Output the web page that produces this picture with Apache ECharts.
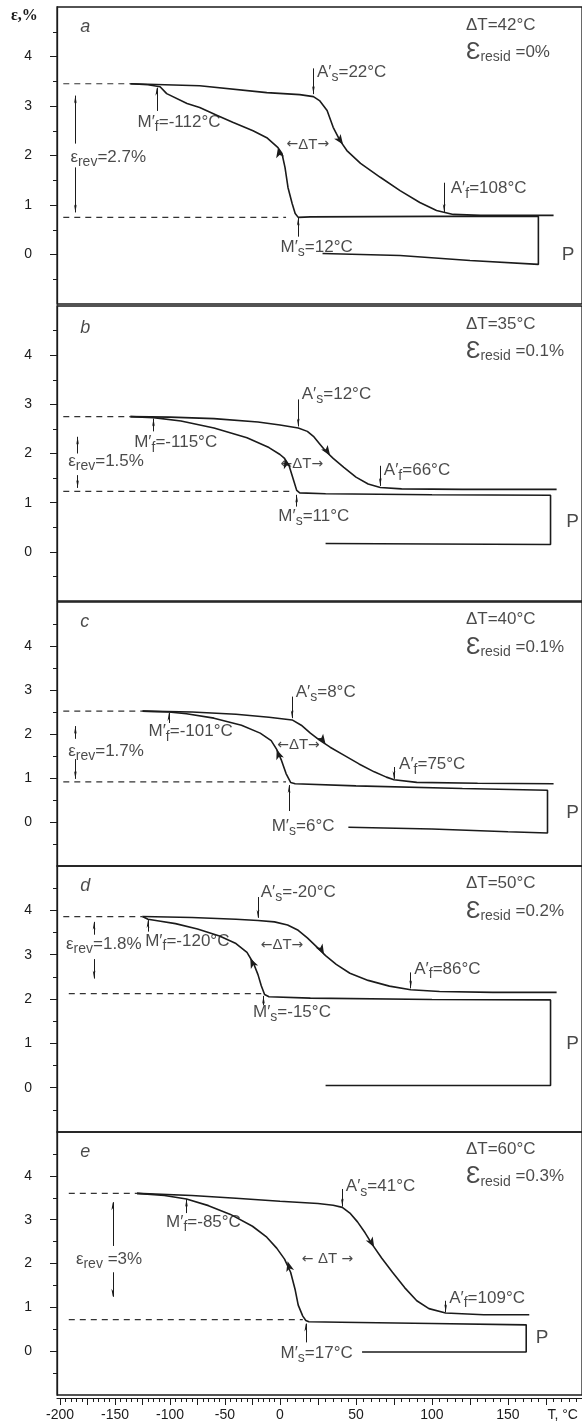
<!DOCTYPE html>
<html>
<head>
<meta charset="utf-8">
<script src="https://cdn.jsdelivr.net/npm/echarts@6/dist/echarts.min.js"></script>
<style>
  html, body { margin: 0; padding: 0; background: #fff; }
  #chart { width: 582px; height: 1425px; }
</style>
</head>
<body>
<div id="chart"></div>
<script>
// axis ticks
const tempLabels = [-200, -150, -100, -50, 0, 50, 100, 150];
const strainTicks = [0, 1, 2, 3, 4];

// characteristic values per panel
const panelNames = ['a', 'b', 'c', 'd', 'e'];
const deltaT = [42, 35, 40, 50, 60];
const residStrain = ['0', '0.1', '0.1', '0.2', '0.3'];
const epsRev = ['2.7', '1.5', '1.7', '1.8', '3'];
const tMf = [-112, -115, -101, -120, -85];
const tAs = [22, 12, 8, -20, 41];
const tAf = [108, 66, 75, 86, 109];
const tMs = [12, 11, 6, -15, 17];

// curves [T, strain]
const heatA = [[-136,3.45],[-73,3.41],[-12,3.27],[13,3.23],[22,3.19],[26,3.11],[31,2.91],[35,2.57],[39.5,2.30],[44,2.10],[53,1.84],[66,1.56],[79,1.29],[92,1.05],[103,0.89],[114,0.81],[132,0.79],[180,0.79]];
const coolA = [[28,0.02],[79,-0.02],[125,-0.12],[170,-0.2],[170,0.77],[100,0.77],[20,0.76],[12,0.75],[10,0.83],[8,1.03],[5.3,1.35],[3.3,1.76],[1.3,2.04],[-1.8,2.16],[-12,2.36],[-24.5,2.5],[-43,2.67],[-57,2.81],[-73,2.97],[-84.5,3.05],[-103,3.25],[-109,3.39],[-120,3.43],[-136,3.45]];
const upperA = [[-197,3.45],[-136,3.45]];
const lowerA = [[-197,0.75],[4,0.75]];

const heatB = [[-136,2.75],[-100,2.74],[-60,2.71],[-20,2.64],[0,2.58],[12,2.52],[18,2.45],[22,2.35],[26,2.2],[30,2.05],[35,1.9],[42,1.72],[50,1.52],[58,1.38],[66,1.31],[80,1.28],[120,1.27],[182,1.27]];
const coolB = [[30,0.17],[100,0.16],[178,0.15],[178,1.15],[100,1.16],[30,1.18],[13,1.2],[11,1.25],[9,1.45],[6,1.75],[3,1.9],[0,1.98],[-10,2.12],[-30,2.32],[-60,2.52],[-90,2.66],[-115,2.73],[-136,2.75]];
const upperB = [[-197,2.75],[-136,2.75]];
const lowerB = [[-197,1.23],[8,1.23]];

const heatC = [[-125,2.52],[-80,2.5],[-40,2.45],[-10,2.38],[8,2.32],[14,2.2],[20,2.02],[26,1.86],[33,1.7],[42,1.52],[52,1.32],[62,1.14],[70,1.02],[75,0.96],[90,0.9],[130,0.88],[180,0.87]];
const coolC = [[45,-0.12],[100,-0.16],[150,-0.22],[176,-0.25],[176,0.72],[120,0.76],[50,0.82],[10,0.87],[7,0.9],[4,1.1],[1,1.4],[-3,1.65],[-8,1.85],[-18,2.02],[-35,2.2],[-60,2.36],[-85,2.46],[-101,2.5],[-125,2.52]];
const upperC = [[-197,2.52],[-125,2.52]];
const lowerC = [[-197,0.91],[4,0.91]];

const heatD = [[-125,3.86],[-80,3.84],[-40,3.8],[-20,3.77],[-5,3.74],[5,3.67],[12,3.55],[18,3.38],[24,3.18],[30,2.98],[37,2.78],[46,2.58],[58,2.42],[72,2.29],[86,2.21],[105,2.17],[140,2.15],[182,2.15]];
const coolD = [[30,0.05],[100,0.05],[178,0.05],[178,1.98],[100,1.99],[20,2.02],[-10,2.05],[-14,2.1],[-17,2.3],[-20,2.55],[-24,2.8],[-30,3.05],[-40,3.25],[-55,3.42],[-75,3.58],[-95,3.7],[-110,3.76],[-120,3.8],[-125,3.86]];
const upperD = [[-197,3.86],[-125,3.86]];
const lowerD = [[-192,2.12],[-17,2.12]];

const heatE = [[-130,3.6],[-80,3.55],[-40,3.49],[0,3.42],[25,3.37],[35,3.33],[41,3.28],[46,3.15],[51,2.95],[56,2.7],[61,2.42],[67,2.12],[74,1.8],[82,1.45],[90,1.15],[98,0.97],[109,0.87],[134,0.83],[164,0.83]];
const coolE = [[54,-0.02],[110,-0.02],[162,-0.02],[162,0.6],[100,0.63],[40,0.66],[19,0.67],[17,0.7],[15,0.8],[12,1.05],[10,1.4],[7,1.8],[3,2.1],[-3,2.35],[-12,2.6],[-25,2.85],[-45,3.12],[-65,3.32],[-85,3.47],[-105,3.55],[-130,3.6]];
const upperE = [[-192,3.6],[-130,3.6]];
const lowerE = [[-192,0.72],[15,0.72]];

// the T axis is stretched differently below and above 0 °C
const K_NEG = 1.1 / 1.52;
function warp(t) { return t < 0 ? t * K_NEG : t; }
function unwarp(u) { return u < 0 ? u / K_NEG : u; }
const X_MIN = -146.7, X_MAX = 198.7;

const majorTicks = [], minorTicks = [];
for (let t = -200; t <= 195; t += 5) {
  if (t % 25 === 0) majorTicks.push(warp(t)); else minorTicks.push(warp(t));
}

// annotation layout: [labelT, labelE, arrowFromE, arrowToE]
const layouts = [
  { top: [4.59, 4.63, 4.08], mf: [-130, 2.67, 2.9, 3.37], as: [24, 3.68, 3.76, 3.24], af: [112, 1.33, 1.45, 0.86], ms: [0, 0.14, 0.36, 0.74],
    dt: [4, 2.22, ''], p: [185, 0], rev: [-191, 1.96, -186, 2.24, 3.21, 1.76, 0.85, '='], heads: [[-1.8, 2.16, 12], [41.5, 2.22, 215]] },
  { top: [4.55, 4.63, 4.08], mf: [-133, 2.22, 2.45, 2.71], as: [14, 3.2, 3.1, 2.55], af: [68, 1.65, 1.75, 1.34], ms: [-2, 0.72, 0.92, 1.16],
    dt: [0, 1.78, ''], p: [188, 0.62], rev: [-193, 1.84, -184, 2.0, 2.34, 1.56, 1.3, '='], heads: [[3, 1.9, 18], [33, 1.96, 215]] },
  { top: [4.55, 4.6, 3.98], mf: [-120, 2.05, 2.25, 2.48], as: [10, 2.95, 2.85, 2.36], af: [78, 1.3, 1.25, 0.98], ms: [-8, -0.1, 0.25, 0.84],
    dt: [-3, 1.75, ''], p: [188, 0.2], rev: [-193, 1.61, -186, 1.89, 2.18, 1.43, 0.98, '='], heads: [[-3, 1.65, 20], [30, 1.77, 215]] },
  { top: [4.55, 4.6, 3.98], mf: [-123, 3.3, 3.52, 3.78], as: [-18, 4.4, 4.3, 3.83], af: [88, 2.68, 2.6, 2.24], ms: [-25, 1.7, 1.86, 2.07],
    dt: [-18, 3.22, ''], p: [188, 1.0], rev: [-195, 3.24, -169, 3.45, 3.74, 2.9, 2.46, '='], heads: [[-27, 2.92, 25], [29, 3.01, 210]] },
  { top: [4.55, 4.6, 3.98], mf: [-104, 2.95, 3.15, 3.47], as: [43, 3.75, 3.7, 3.3], af: [111, 1.2, 1.15, 0.89], ms: [0, -0.05, 0.2, 0.63],
    dt: [14, 2.1, ' '], p: [168, 0.3], rev: [-186, 2.1, -152, 2.4, 3.4, 1.8, 1.24, ' ='], heads: [[5, 2.05, 15], [62, 2.37, 210]] }
];

const panels = [
  { heat: heatA, cool: coolA, upper: upperA, lower: lowerA },
  { heat: heatB, cool: coolB, upper: upperB, lower: lowerB },
  { heat: heatC, cool: coolC, upper: upperC, lower: lowerC },
  { heat: heatD, cool: coolD, upper: upperD, lower: lowerD },
  { heat: heatE, cool: coolE, upper: upperE, lower: lowerE }
];

const gridBoxes = [[7, 297], [306, 295], [602, 264], [866, 266], [1132, 263]];
const INK = '#1b1b1b';
const toXY = p => [warp(p[0]), p[1]];

const grids = gridBoxes.map(g => ({
  left: 57, right: 0, top: g[0], height: g[1],
  show: true, borderColor: INK, borderWidth: 1.3, backgroundColor: 'transparent'
}));

const xAxes = gridBoxes.map((g, i) => ({
  type: 'value', gridIndex: i, position: 'bottom', min: X_MIN, max: X_MAX, offset: i === 4 ? 3 : 0,
  axisLine: { show: i === 4, onZero: false, lineStyle: { color: INK, width: 1.2 } },
  axisTick: { show: i === 4, customValues: majorTicks, length: 7, lineStyle: { color: INK } },
  axisLabel: {
    show: i === 4, customValues: tempLabels.map(warp).concat([186]), margin: 10,
    fontSize: 14, color: INK,
    formatter: v => v > 180 ? 'T, °C' : String(Math.round(unwarp(v)))
  },
  splitLine: { show: false }
}));
xAxes.push({
  type: 'value', gridIndex: 4, position: 'bottom', min: X_MIN, max: X_MAX, offset: 3,
  axisLine: { show: false, onZero: false },
  axisTick: { show: true, customValues: minorTicks, length: 4, lineStyle: { color: INK } },
  axisLabel: { show: false }, splitLine: { show: false }
});

const yAxes = gridBoxes.map((g, i) => ({
  type: 'value', gridIndex: i, position: 'left', min: -1, max: 5, interval: 1,
  axisLine: { show: true, onZero: false, lineStyle: { color: INK, width: 1.3 } },
  axisTick: { show: true, customValues: strainTicks, length: 7, lineStyle: { color: INK } },
  minorTick: { show: true, splitNumber: 2, length: 4, lineStyle: { color: INK } },
  axisLabel: { customValues: strainTicks, margin: 25, fontSize: 14, color: INK },
  splitLine: { show: false }, minorSplitLine: { show: false }
}));

const rich = {
  sub: { fontSize: 14, padding: [10, 0, 0, 0], color: INK },
  big: { fontSize: 24, color: INK },
  it: { fontSize: 18, fontStyle: 'italic', color: INK },
  pp: { fontSize: 19, color: INK },
  ar: { fontSize: 14, color: INK, fontFamily: '"DejaVu Sans", sans-serif' },
  dt: { fontSize: 15, color: INK }
};

const series = [];
panels.forEach((pn, i) => {
  const L = layouts[i];
  const common = { xAxisIndex: i, yAxisIndex: i, symbol: 'none', silent: true, animation: false };
  series.push(Object.assign({ type: 'line', data: pn.heat.map(toXY), lineStyle: { color: INK, width: 1.6 } }, common));
  series.push(Object.assign({ type: 'line', data: pn.cool.map(toXY), lineStyle: { color: INK, width: 1.6 } }, common));
  series.push(Object.assign({ type: 'line', data: pn.upper.map(toXY), lineStyle: { color: '#333', width: 1.2, type: [6, 5] } }, common));
  series.push(Object.assign({ type: 'line', data: pn.lower.map(toXY), lineStyle: { color: '#333', width: 1.2, type: [6, 5] } }, common));

  const gap = L.dt[2];
  const notes = [
    [-182, L.top[0], '{it|' + panelNames[i] + '}'],
    [122, L.top[1], 'ΔT=' + deltaT[i] + '°C'],
    [122, L.top[2], '{big|Ɛ}{sub|resid} =' + residStrain[i] + '%'],
    [L.mf[0], L.mf[1], 'M′{sub|f}=' + tMf[i] + '°C'],
    [L.as[0], L.as[1], 'A′{sub|s}=' + tAs[i] + '°C'],
    [L.af[0], L.af[1], 'A′{sub|f}=' + tAf[i] + '°C'],
    [L.ms[0], L.ms[1], 'M′{sub|s}=' + tMs[i] + '°C'],
    [L.dt[0], L.dt[1], '{ar|←' + gap + '}{dt|ΔT}{ar|' + gap + '→}'],
    [L.p[0], L.p[1], '{pp|P}'],
    [L.rev[0], L.rev[1], 'ε{sub|rev}' + L.rev[7] + epsRev[i] + '%']
  ];
  const arrows = [
    [tMf[i], L.mf[2], L.mf[3]],
    [tAs[i], L.as[2], L.as[3]],
    [tAf[i], L.af[2], L.af[3]],
    [tMs[i], L.ms[2], L.ms[3]],
    [L.rev[2], L.rev[3], L.rev[4]],
    [L.rev[2], L.rev[5], L.rev[6]]
  ];
  series.push({
    type: 'scatter', xAxisIndex: i, yAxisIndex: i, silent: true, animation: false,
    symbolSize: 1, itemStyle: { color: 'transparent' },
    data: notes.map(n => ({ value: [warp(n[0]), n[1]], name: n[2] })),
    label: {
      show: true, position: 'right', distance: 0, fontSize: 17, color: INK,
      formatter: p => p.name, rich: rich
    },
    markLine: {
      silent: true, animation: false, symbol: ['none', 'arrow'], symbolSize: [2, 8],
      lineStyle: { type: 'solid', color: INK, width: 1 }, label: { show: false },
      data: arrows.map(a => [{ coord: [warp(a[0]), a[1]] }, { coord: [warp(a[0]), a[2]] }])
    },
    markPoint: {
      silent: true, animation: false, symbol: 'arrow', symbolSize: [6, 10],
      itemStyle: { color: INK }, label: { show: false },
      data: L.heads.map(h => ({ coord: [warp(h[0]), h[1]], symbolRotate: h[2] }))
    }
  });
});

const chart = echarts.init(document.getElementById('chart'));
chart.setOption({
  animation: false,
  textStyle: { fontFamily: '"Liberation Sans", Arial, sans-serif' },
  grid: grids,
  xAxis: xAxes,
  yAxis: yAxes,
  graphic: [{
    type: 'text', left: 11, top: 8,
    style: { text: 'ε,%', font: 'bold 16px "Liberation Serif", serif', fill: INK }
  }],
  series: series
});
window.addEventListener('resize', () => chart.resize());
</script>
</body>
</html>
